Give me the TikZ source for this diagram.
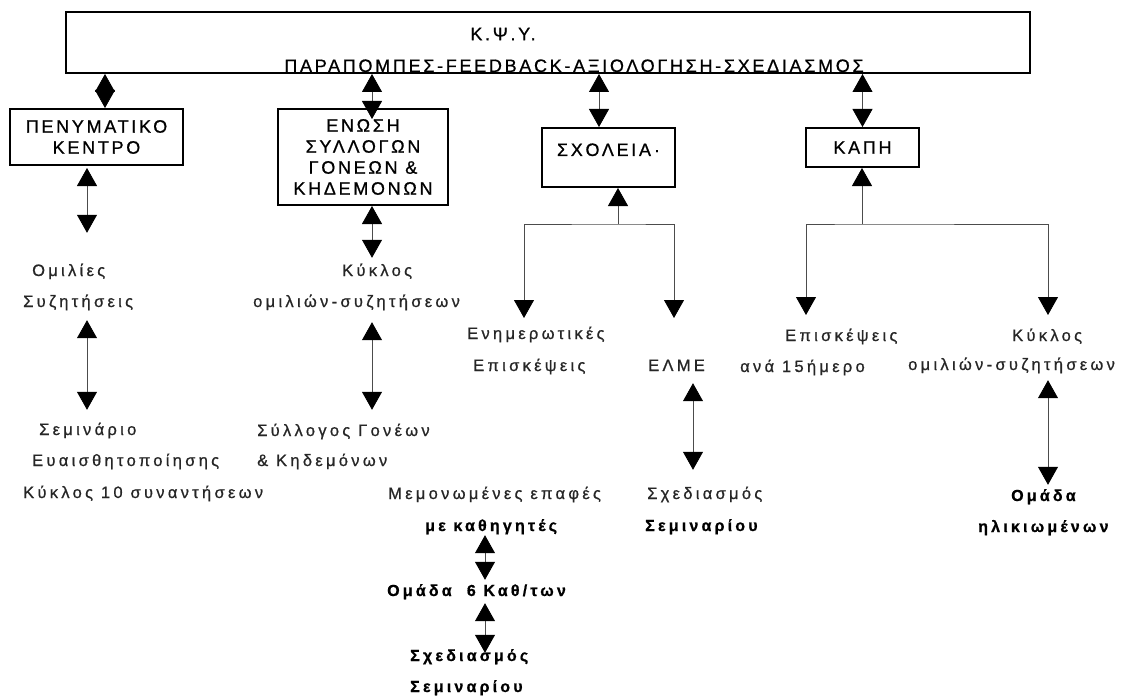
\documentclass[tikz,border=0pt]{standalone}
\usepackage{fontspec}
\setmainfont{Liberation Sans}
\newfontfamily\txtfont[LetterSpace=20,FakeBold=0.8]{Liberation Sans}
\newfontfamily\capsfont[LetterSpace=15,FakeBold=0.8]{Liberation Sans}
\usetikzlibrary{arrows.meta,positioning}

\begin{document}
\begin{tikzpicture}
   [x=1pt,y=-1pt,
    >={Triangle[width=20pt,length=18pt,color=black]},
    box/.style={rectangle,draw,line width=2pt,inner sep=0pt,align=center,
      font=\capsfont\fontsize{18}{21}\selectfont},
    ttl/.style={inner sep=0pt,font=\capsfont\fontsize{18}{21}\selectfont},
    lbl/.style={anchor=west,inner sep=0pt,text height=12pt,text depth=4pt,
      text=black!85,font=\txtfont\fontsize{16.5}{19}\selectfont},
    blbl/.style={lbl,text=black,font=\txtfont\bfseries\fontsize{16}{19}\selectfont},
    link/.style={<->,black!70,line width=0.8pt},
    fork/.style={black!70,line width=0.8pt}]

\useasboundingbox (0,0) rectangle (1122,698);
\fill [white] (0,0) rectangle (1122,698);

\node [box,minimum width=964pt,minimum height=60.5pt] (kpsy) at (548,42.75) {};
\node [ttl] (kpsyname) at (503,34) {Κ.Ψ.Υ.};
\node [ttl,anchor=base] (kpsytask) at (574,72) {ΠΑΡΑΠΟΜΠΕΣ-FEEDBACK-ΑΞΙΟΛΟΓΗΣΗ-ΣΧΕΔΙΑΣΜΟΣ};

\node [box,minimum width=173pt,minimum height=56pt] (pneum) at (96.5,137) {ΠΕΝΥΜΑΤΙΚΟ\\ΚΕΝΤΡΟ};
\node [box,minimum width=170pt,minimum height=96pt] (enosi) at (363,157) {ΕΝΩΣΗ\\ΣΥΛΛΟΓΩΝ\\ΓΟΝΕΩΝ \&\\ΚΗΔΕΜΟΝΩΝ};
\node [box,minimum width=133pt,text height=28pt,text depth=31pt] (sxol) at (608.5,157.5) {ΣΧΟΛΕΙΑ\,·};
\node [box,minimum width=113pt,minimum height=39pt] (kapi) at (862.5,147.5) {ΚΑΠΗ};

\node [lbl] (om1) at (32,272) {Ομιλίες};
\node [lbl] (om2) at (23,303) {Συζητήσεις};
\node [lbl] (se1) at (39,431) {Σεμινάριο};
\node [lbl] (se2) at (32,462) {Ευαισθητοποίησης};
\node [lbl] (se3) at (23,494) {Κύκλος 10 συναντήσεων};

\node [lbl] (ky1) at (342,272) {Κύκλος};
\node [lbl] (ky2) at (253,303) {ομιλιών-συζητήσεων};
\node [lbl] (sy1) at (257,432) {Σύλλογος Γονέων};
\node [lbl] (sy2) at (257,462) {\& Κηδεμόνων};

\node [lbl] (en1) at (467,335) {Ενημερωτικές};
\node [lbl] (en2) at (473,367) {Επισκέψεις};
\node [lbl] (me1) at (388,495) {Μεμονωμένες επαφές};
\node [blbl] (me2) at (425,527) {με καθηγητές};
\node [blbl] (om6) at (387,592) {Ομάδα\ \ 6 Καθ/των};
\node [blbl] (sx1) at (410,657) {Σχεδιασμός};
\node [blbl] (sx2) at (410,688) {Σεμιναρίου};

\node [lbl] (elme) at (648,367) {ΕΛΜΕ};
\node [lbl] (es1) at (647,495) {Σχεδιασμός};
\node [blbl] (es2) at (645,527) {Σεμιναρίου};

\node [lbl] (ep1) at (785,337) {Επισκέψεις};
\node [lbl] (ep2) at (740,368) {ανά 15ήμερο};
\node [lbl] (kk1) at (1012,337) {Κύκλος};
\node [lbl] (kk2) at (908,366) {ομιλιών-συζητήσεων};
\node [blbl] (oh1) at (1011,497) {Ομάδα};
\node [blbl] (oh2) at (978,528) {ηλικιωμένων};

\coordinate (colA) at (87,0);
\coordinate (colB) at (372,0);
\coordinate (colC) at (485,0);
\coordinate (colD) at (693,0);
\coordinate (colE) at (1048,0);

\draw [link] ([xshift=8.5pt]pneum.north |- kpsy.south) -- ([xshift=8.5pt]pneum.north);
\draw [link] ([xshift=9pt]enosi.north |- kpsy.south) -- ([xshift=9pt,yshift=-11pt]enosi.north);
\draw [link] ([xshift=-9.5pt]sxol.north |- kpsy.south) -- ([xshift=-9.5pt]sxol.north);
\draw [link] (kapi.north |- kpsy.south) -- (kapi.north);

\draw [link,shorten <=2pt,shorten >=31pt] (pneum.south -| colA) -- (om1.north -| colA);
\draw [link,shorten <=9pt,shorten >=13pt] (om2.south -| colA) -- (se1.north -| colA);
\draw [link,shorten >=6pt] (enosi.south -| colB) -- (ky1.north -| colB);
\draw [link,shorten <=11pt,shorten >=14pt] (ky2.south -| colB) -- (sy1.north -| colB);
\draw [link,shorten >=4pt] (me2.south -| colC) -- (om6.north -| colC);
\draw [link,shorten <=3pt,shorten >=-4pt] (om6.south -| colC) -- (sx1.north -| colC);
\draw [link,shorten <=8pt,shorten >=17pt] (elme.south -| colD) -- (es1.north -| colD);
\draw [link,shorten <=6pt,shorten >=4pt] (kk2.south -| colE) -- (oh1.north -| colE);

\coordinate (sxj) at (618,224);
\coordinate (sxl) at (524,318);
\coordinate (sxr) at (674,318);
\draw [fork,->] (sxj) -- (sxj |- sxol.south);
\draw [fork,<->] (sxl) |- (sxj) -| (sxr);

\coordinate (kpj) at (862,224);
\coordinate (kpl) at (806,315);
\coordinate (kpr) at (1048,315);
\draw [fork,->] (kpj) -- (kpj |- kapi.south);
\draw [fork,<->] (kpl) |- (kpj) -| (kpr);
\end{tikzpicture}
\end{document}
